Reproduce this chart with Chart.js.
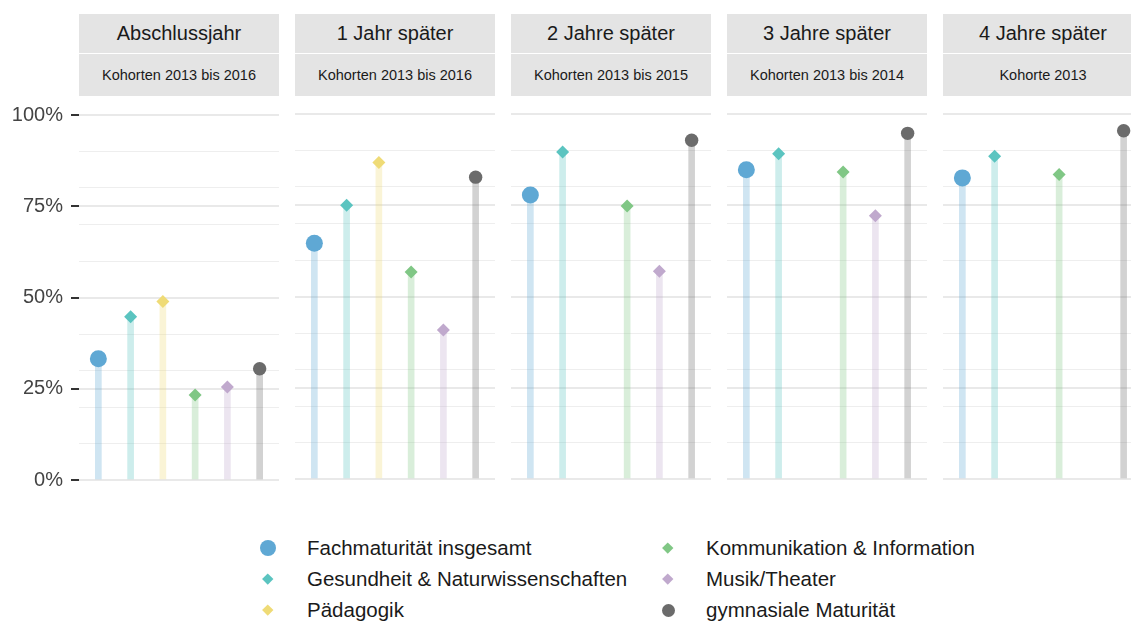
<!DOCTYPE html>
<html>
<head>
<meta charset="utf-8">
<script src="https://cdn.jsdelivr.net/npm/chart.js@4.4.1/dist/chart.umd.min.js"></script>
<style>
    html, body { margin: 0; padding: 0; background: #fff; }
    body {
        width: 1131px; height: 621px; overflow: hidden; position: relative;
        font-family: 'Liberation Sans', Arial, sans-serif; color: #1a1a1a;
    }
    .panel { position: absolute; top: 104px; height: 385px; }
    .panel.first { top: 95px; height: 405px; }
    .strip { position: absolute; width: 200px; background: #e4e4e4; text-align: center; white-space: nowrap; }
    .strip.title { top: 14px; height: 39px; line-height: 39px; font-size: 20px; }
    .strip.sub { top: 54px; height: 42px; line-height: 42px; font-size: 14.5px; }
    .sym { position: absolute; }
    .label { position: absolute; font-size: 20.5px; line-height: 24px; white-space: nowrap; }
</style>
</head>
<body>
<script>
const panelTitles = ['Abschlussjahr', '1 Jahr später', '2 Jahre später', '3 Jahre später', '4 Jahre später'];
const cohorts = ['Kohorten 2013 bis 2016', 'Kohorten 2013 bis 2016', 'Kohorten 2013 bis 2015', 'Kohorten 2013 bis 2014', 'Kohorte 2013'];
const series = [
    'Fachmaturität insgesamt',
    'Gesundheit & Naturwissenschaften',
    'Pädagogik',
    'Kommunikation & Information',
    'Musik/Theater',
    'gymnasiale Maturität'
];

// values in % per panel (Abschlussjahr ... 4 Jahre später)
const fachmaturitaet = [33.2, 64.6, 77.8, 84.7, 82.5];
const gesundheit = [44.7, 75.0, 89.6, 89.1, 88.4];
const paedagogik = [48.9, 86.7, null, null, null];
const kommunikation = [23.3, 56.7, 74.8, 84.1, 83.4];
const musik = [25.5, 40.8, 56.9, 72.1, null];
const gymnasial = [30.5, 82.7, 92.8, 94.7, 95.4];

const yTicks = [0, 25, 50, 75, 100];
const gridLines = [0, 10, 20, 25, 30, 40, 50, 60, 70, 75, 80, 90, 100];

const seriesValues = [fachmaturitaet, gesundheit, paedagogik, kommunikation, musik, gymnasial];
const pointColors = ['#5fa8d4', '#5bc4c0', '#efdb76', '#80c785', '#c0a9cd', '#6b6b6b'];
const stemColors = [
    'rgba(95,168,212,0.3)', 'rgba(91,196,192,0.3)', 'rgba(239,219,118,0.3)',
    'rgba(128,199,133,0.3)', 'rgba(192,169,205,0.3)', 'rgba(107,107,107,0.3)'
];
const pointStyles = ['circle', 'rectRot', 'rectRot', 'rectRot', 'rectRot', 'circle'];
const pointSizes = [8.5, 6.5, 6.5, 6.5, 6.5, 6.7];

const panelLefts = [79, 295, 511, 727, 943];
const fontFamily = "'Liberation Sans', Arial, sans-serif";

function makePanel(p) {
    const withAxis = p === 0;
    const left = withAxis ? 0 : panelLefts[p];
    const width = withAxis ? panelLefts[0] + 200 : 200;

    const wrap = document.createElement('div');
    wrap.className = withAxis ? 'panel first' : 'panel';
    wrap.style.left = left + 'px';
    wrap.style.width = width + 'px';
    const canvas = document.createElement('canvas');
    wrap.appendChild(canvas);
    document.body.appendChild(wrap);

    const title = document.createElement('div');
    title.className = 'strip title';
    title.style.left = panelLefts[p] + 'px';
    title.textContent = panelTitles[p];
    document.body.appendChild(title);

    const sub = document.createElement('div');
    sub.className = 'strip sub';
    sub.style.left = panelLefts[p] + 'px';
    sub.textContent = cohorts[p];
    document.body.appendChild(sub);

    const data = seriesValues.map((vals, i) => ({x: i + 1, y: vals[p]}));

    new Chart(canvas, {
        type: 'bar',
        data: {
            datasets: [{
                type: 'line',
                data: data,
                showLine: false,
                order: 0,
                clip: false,
                pointStyle: pointStyles,
                pointRadius: pointSizes,
                pointHoverRadius: pointSizes,
                pointBackgroundColor: pointColors,
                pointBorderWidth: 0
            }, {
                data: data,
                order: 1,
                barThickness: 6,
                backgroundColor: stemColors,
                borderWidth: 0
            }]
        },
        options: {
            responsive: true,
            maintainAspectRatio: false,
            animation: false,
            layout: {autoPadding: false, padding: {top: 10, bottom: 10, left: 0, right: 0}},
            plugins: {legend: {display: false}, tooltip: {enabled: false}},
            scales: {
                x: {
                    type: 'linear',
                    min: 0.4,
                    max: 6.6,
                    offset: false,
                    display: false
                },
                y: {
                    min: 0,
                    max: 100,
                    afterBuildTicks: s => { s.ticks = gridLines.map(v => ({value: v})); },
                    afterFit: s => { s.width = withAxis ? panelLefts[0] : 0; },
                    border: {display: false},
                    ticks: {
                        display: withAxis,
                        autoSkip: false,
                        padding: 8,
                        color: '#444',
                        font: {family: fontFamily, size: 20},
                        callback: v => yTicks.includes(v) ? v + '%' : ''
                    },
                    grid: {
                        drawTicks: withAxis,
                        tickLength: 8,
                        tickWidth: 2,
                        tickColor: c => yTicks.includes(c.tick.value) ? '#333' : 'rgba(0,0,0,0)',
                        color: c => yTicks.includes(c.tick.value) ? '#e9e9e9' : '#eeeeee',
                        lineWidth: c => yTicks.includes(c.tick.value) ? 2 : 1
                    }
                }
            }
        }
    });
}

panelTitles.forEach((t, p) => makePanel(p));

// legend
series.forEach((name, i) => {
    const col = i < 3 ? 0 : 1;
    const row = i % 3;
    const cx = [268, 668][col];
    const cy = 548 + row * 31;

    const sym = document.createElement('div');
    sym.className = 'sym';
    let size;
    if (pointStyles[i] === 'circle') {
        size = i === 0 ? 16 : 13;
        sym.style.borderRadius = '50%';
    } else {
        size = 7.5;
        sym.style.transform = 'rotate(45deg)';
    }
    sym.style.width = size + 'px';
    sym.style.height = size + 'px';
    sym.style.left = (cx - size / 2) + 'px';
    sym.style.top = (cy - size / 2) + 'px';
    sym.style.background = pointColors[i];
    document.body.appendChild(sym);

    const label = document.createElement('div');
    label.className = 'label';
    label.style.left = (col === 0 ? 307 : 706) + 'px';
    label.style.top = (cy - 12) + 'px';
    label.textContent = name;
    document.body.appendChild(label);
});
</script>
</body>
</html>
